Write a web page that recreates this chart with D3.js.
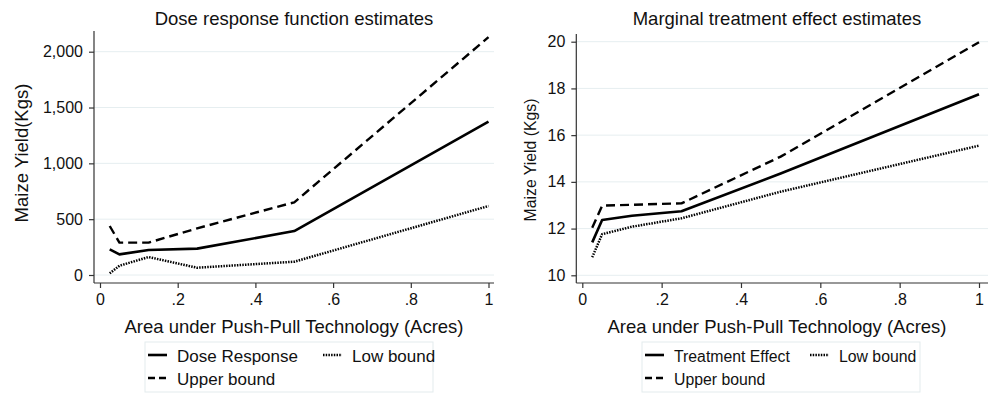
<!DOCTYPE html>
<html lang="en">
<head>
<meta charset="utf-8">
<title>Dose response and marginal treatment effect</title>
<script src="https://d3js.org/d3.v7.min.js"></script>
<style>
  body { margin: 0; background: #fff; }
  text { font-family: "Liberation Sans", Arial, sans-serif; fill: #111; }
  .grid line { stroke: #e6eef0; stroke-width: 1; }
  .axis path, .axis line { stroke: #333; stroke-width: 1.2; }
</style>
</head>
<body>
<script>
// data
var acres = [0.025, 0.05, 0.125, 0.25, 0.5, 1];
var doseResponse = [230, 185, 224, 236, 394, 1374];
var doseUpper = [439, 290, 290, 418, 651, 2130];
var doseLow = [15, 83, 161, 65, 119, 618];
var treatEffect = [11.41, 12.37, 12.55, 12.74, 14.36, 17.75];
var treatUpper = [12.04, 12.98, 13.02, 13.08, 15.08, 19.98];
var treatLow = [10.77, 11.76, 12.08, 12.44, 13.58, 15.55];

var xTicks = [0, 0.2, 0.4, 0.6, 0.8, 1];
var doseTicks = [0, 500, 1000, 1500, 2000];
var treatTicks = [10, 12, 14, 16, 18, 20];

var width = 988, height = 394;
var svg = d3.select("body").append("svg")
  .attr("width", width)
  .attr("height", height);

var styles = {
  solid: { w: 2.6, dash: null },
  dash: { w: 2.4, dash: "9,5" },
  dot: { w: 2.5, dash: "1.5,1.2" }
};

function fmtX(d) {
  if (d === 0) return "0";
  if (d === 1) return "1";
  return d3.format(".1f")(d).replace(/^0/, "");
}

function panel(o) {
  var g = svg.append("g");
  var x = d3.scaleLinear().domain([0, 1]).range(o.xr);
  var y = d3.scaleLinear().domain(o.yd).range(o.yr);

  // gridlines
  g.append("g").attr("class", "grid")
    .selectAll("line").data(o.yTicks).enter().append("line")
    .attr("x1", o.axisX).attr("x2", o.right)
    .attr("y1", d => y(d)).attr("y2", d => y(d));

  // y axis
  var ya = g.append("g").attr("class", "axis")
    .attr("transform", "translate(" + o.axisX + ",0)")
    .call(d3.axisLeft(y).tickValues(o.yTicks).tickFormat(o.yFmt).tickSize(5).tickPadding(6).tickSizeOuter(0));
  ya.select(".domain").attr("d", "M0," + o.top + "V" + o.axisY);
  ya.selectAll("text").style("font-size", o.tickFs + "px").attr("fill", "#111");

  // x axis
  var xa = g.append("g").attr("class", "axis")
    .attr("transform", "translate(0," + o.axisY + ")")
    .call(d3.axisBottom(x).tickValues(xTicks).tickFormat(fmtX).tickSize(5).tickPadding(6).tickSizeOuter(0));
  xa.select(".domain").attr("d", "M" + o.axisX + ",0H" + o.right);
  xa.selectAll("text").style("font-size", "16px").attr("fill", "#111");

  // series
  var line = d3.line().x((d, i) => x(acres[i])).y(d => y(d));
  o.series.forEach(function (s) {
    g.append("path")
      .attr("d", line(s.values))
      .attr("fill", "none")
      .attr("stroke", "#000")
      .attr("stroke-width", styles[s.style].w)
      .attr("stroke-dasharray", styles[s.style].dash)
      .attr("stroke-linejoin", "round");
  });

  // titles
  g.append("text").attr("x", o.titleX).attr("y", 25)
    .attr("text-anchor", "middle").style("font-size", "18.5px").text(o.title);
  g.append("text").attr("x", o.titleX).attr("y", 333)
    .attr("text-anchor", "middle").style("font-size", "18.5px")
    .text("Area under Push-Pull Technology (Acres)");
  g.append("text")
    .attr("transform", "translate(" + o.yTitleX + "," + o.yTitleY + ") rotate(-90)")
    .attr("text-anchor", "middle").style("font-size", o.yTitleFs + "px").text(o.yTitle);

  // legend
  var L = o.legend;
  g.append("rect").attr("x", L.x).attr("y", 342).attr("width", L.w).attr("height", 50)
    .attr("fill", "#fff").attr("stroke", "#e3ebed").attr("stroke-width", 1);
  var items = [
    { label: o.series[0].label, style: "solid", x: L.x + 3, row: 0 },
    { label: "Low bound", style: "dot", x: L.x + L.col2, row: 0 },
    { label: "Upper bound", style: "dash", x: L.x + 3, row: 1 }
  ];
  items.forEach(function (it) {
    var cy = 355 + it.row * 23;
    g.append("line").attr("x1", it.x).attr("x2", it.x + 19)
      .attr("y1", cy).attr("y2", cy)
      .attr("stroke", "#000").attr("stroke-width", styles[it.style].w)
      .attr("stroke-dasharray", it.style === "dash" ? "7,4" : styles[it.style].dash);
    g.append("text").attr("x", it.x + 29).attr("y", cy + 6.5)
      .style("font-size", L.fs + "px").text(it.label);
  });
}

panel({
  xr: [100, 488.5], yd: [0, 2000], yr: [275, 51.7],
  axisX: 94, axisY: 283, top: 31, right: 494,
  yTicks: doseTicks, yFmt: d3.format(","), tickFs: 16,
  title: "Dose response function estimates", titleX: 294,
  yTitle: "Maize Yield(Kgs)", yTitleX: 28, yTitleY: 153, yTitleFs: 18.5,
  series: [
    { label: "Dose Response", style: "solid", values: doseResponse },
    { label: "Upper bound", style: "dash", values: doseUpper },
    { label: "Low bound", style: "dot", values: doseLow }
  ],
  legend: { x: 145, w: 288, col2: 178, fs: 17 }
});

panel({
  xr: [582.3, 979], yd: [10, 20], yr: [275.3, 41.7],
  axisX: 576.3, axisY: 283, top: 34, right: 988,
  yTicks: treatTicks, yFmt: d3.format("d"), tickFs: 16,
  title: "Marginal treatment effect estimates", titleX: 777,
  yTitle: "Maize Yield (Kgs)", yTitleX: 536, yTitleY: 160, yTitleFs: 15.8,
  series: [
    { label: "Treatment Effect", style: "solid", values: treatEffect },
    { label: "Upper bound", style: "dash", values: treatUpper },
    { label: "Low bound", style: "dot", values: treatLow }
  ],
  legend: { x: 642, w: 278, col2: 168, fs: 15.8 }
});
</script>
</body>
</html>
